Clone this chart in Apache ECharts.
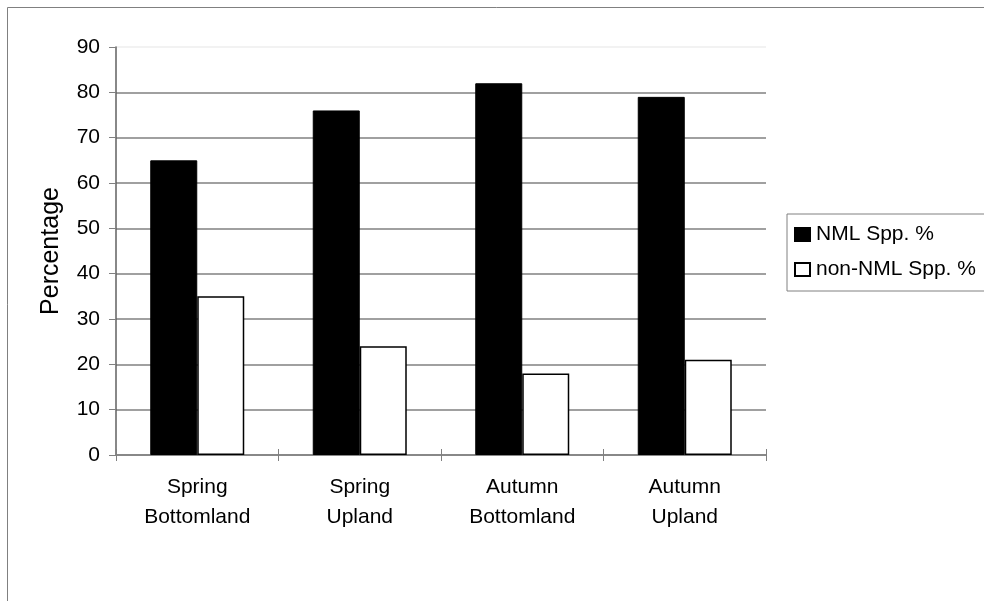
<!DOCTYPE html>
<html>
<head>
<meta charset="utf-8">
<script src="https://cdn.jsdelivr.net/npm/echarts@6/dist/echarts.min.js"></script>
<style>
  html, body { margin: 0; padding: 0; background: #fff; }
  #chart { width: 984px; height: 601px; }
</style>
</head>
<body>
<div id="chart"></div>
<script>
// Site / season groups along the x axis
const categories = ['Spring\nBottomland', 'Spring\nUpland', 'Autumn\nBottomland', 'Autumn\nUpland'];
// Share of species in each group (%)
const nmlValues = [65, 76, 82, 79];
const nonNmlValues = [35, 24, 18, 21];
const seriesNames = ['NML Spp. %', 'non-NML Spp. %'];
const yTicks = { min: 0, max: 90, step: 10 };

const font = 'Liberation Sans, Arial, sans-serif';
const chart = echarts.init(document.getElementById('chart'), null, { renderer: 'canvas' });

// gridlines are mid grey, the top one (at the axis max) is almost invisible
const gridColors = [];
for (let v = yTicks.min; v <= yTicks.max; v += yTicks.step) {
  gridColors.push(v === yTicks.max ? '#eeeeee' : '#808080');
}

chart.setOption({
  animation: false,
  backgroundColor: '#ffffff',
  textStyle: { fontFamily: font, color: '#000' },
  graphic: [{
    type: 'rect',
    shape: { x: 7.5, y: 7.5, width: 1000, height: 1000 },
    style: { fill: 'none', stroke: '#808080', lineWidth: 1 },
    silent: true,
    z: -10
  }],
  legend: {
    left: 787,
    top: 214,
    orient: 'vertical',
    itemWidth: 15,
    itemHeight: 13,
    itemGap: 14,
    padding: [10, 80, 11, 7],
    borderColor: '#808080',
    borderWidth: 1,
    backgroundColor: '#fff',
    textStyle: { fontFamily: font, fontSize: 21, color: '#000', padding: [0, 0, 0, 1] },
    data: seriesNames.map(n => ({ name: n, icon: 'rect' }))
  },
  grid: { left: 116, right: 218, top: 47, bottom: 146, containLabel: false },
  xAxis: [{
    type: 'category',
    data: categories,
    boundaryGap: true,
    axisLine: { lineStyle: { color: '#808080', width: 1.5 } },
    axisTick: { show: true, length: 6, alignWithLabel: false, lineStyle: { color: '#808080' } },
    axisLabel: { fontFamily: font, fontSize: 21, color: '#000', lineHeight: 30, margin: 17, interval: 0 }
  }, {
    type: 'category',
    data: categories,
    position: 'bottom',
    boundaryGap: true,
    axisLine: { show: false },
    axisTick: { show: true, inside: true, length: 6, lineStyle: { color: '#808080' } },
    axisLabel: { show: false }
  }],
  yAxis: {
    type: 'value',
    name: 'Percentage',
    nameLocation: 'middle',
    nameGap: 52,
    nameRotate: 90,
    nameTextStyle: { fontFamily: font, fontSize: 25, color: '#000' },
    min: yTicks.min,
    max: yTicks.max,
    interval: yTicks.step,
    axisLine: { show: true, lineStyle: { color: '#606060', width: 1.5 } },
    axisTick: { show: true, length: 7, lineStyle: { color: '#808080' } },
    axisLabel: { fontFamily: font, fontSize: 21, color: '#000', margin: 16 },
    splitLine: { show: true, lineStyle: { color: gridColors, width: 1.5 } }
  },
  series: [{
    name: seriesNames[0],
    type: 'bar',
    data: nmlValues,
    barWidth: 47,
    barGap: '0%',
    itemStyle: { color: '#000000', borderColor: '#000', borderWidth: 1 }
  }, {
    name: seriesNames[1],
    type: 'bar',
    data: nonNmlValues,
    barWidth: 47,
    barGap: '0%',
    itemStyle: { color: '#ffffff', borderColor: '#000', borderWidth: 1.5 }
  }]
});
</script>
</body>
</html>
